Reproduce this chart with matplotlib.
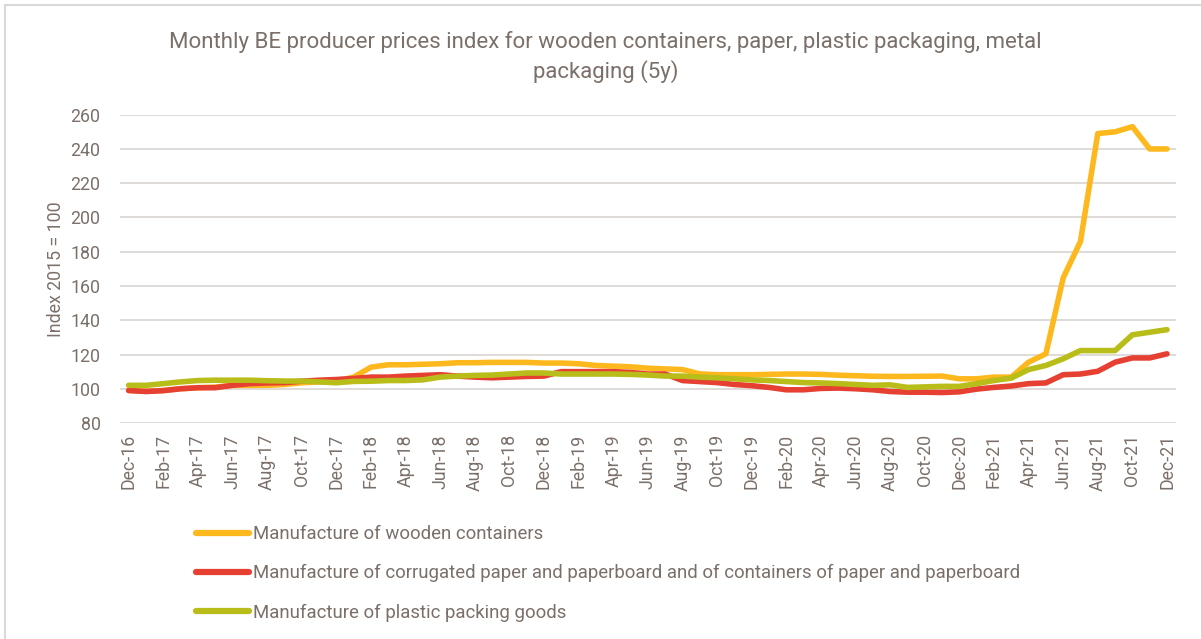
import numpy as np
import matplotlib.pyplot as plt
from matplotlib.lines import Line2D

plt.rcParams['font.family'] = ['Roboto', 'DejaVu Sans']

# monthly index values Dec-16 .. Dec-21 (2015 = 100)
months = ['Dec-16', 'Jan-17', 'Feb-17', 'Mar-17', 'Apr-17', 'May-17', 'Jun-17', 'Jul-17',
          'Aug-17', 'Sep-17', 'Oct-17', 'Nov-17', 'Dec-17', 'Jan-18', 'Feb-18', 'Mar-18',
          'Apr-18', 'May-18', 'Jun-18', 'Jul-18', 'Aug-18', 'Sep-18', 'Oct-18', 'Nov-18',
          'Dec-18', 'Jan-19', 'Feb-19', 'Mar-19', 'Apr-19', 'May-19', 'Jun-19', 'Jul-19',
          'Aug-19', 'Sep-19', 'Oct-19', 'Nov-19', 'Dec-19', 'Jan-20', 'Feb-20', 'Mar-20',
          'Apr-20', 'May-20', 'Jun-20', 'Jul-20', 'Aug-20', 'Sep-20', 'Oct-20', 'Nov-20',
          'Dec-20', 'Jan-21', 'Feb-21', 'Mar-21', 'Apr-21', 'May-21', 'Jun-21', 'Jul-21',
          'Aug-21', 'Sep-21', 'Oct-21', 'Nov-21', 'Dec-21']

wooden = [99, 98.5, 99, 100, 100.6, 101, 102, 102, 102, 102.5, 103.5, 104, 104.5, 106.8,
          112.6, 114, 114, 114.3, 114.6, 115.2, 115.2, 115.4, 115.4, 115.4, 115, 115, 114.6,
          113.6, 113.2, 112.8, 112, 111.6, 111.2, 108.7, 108.2, 108.2, 108.2, 108.4, 108.6,
          108.6, 108.4, 107.9, 107.6, 107.3, 107.2, 107.2, 107.3, 107.4, 105.8, 105.8, 106.8,
          106.8, 115.5, 120.4, 164.7, 186, 249, 250, 253, 240, 240]

paper = [99, 98.4, 98.9, 100, 100.6, 100.6, 102, 103, 103.4, 103.6, 104.4, 105, 105.4, 106,
         106.8, 106.8, 107.4, 107.8, 108.2, 107.4, 106.8, 106.4, 106.8, 107.2, 107.4, 110, 110,
         110, 110, 109.5, 108.6, 108.6, 104.8, 104.2, 103.6, 102.5, 101.8, 100.8, 99.4, 99.4,
         100.2, 100.4, 100, 99.4, 98.4, 98, 98, 97.8, 98.2, 99.8, 100.8, 101.6, 103, 103.4,
         108.2, 108.6, 110.2, 115.5, 118, 118, 120.4]

plastic = [102, 102, 103, 104, 104.8, 105, 105, 105, 104.7, 104.5, 104.5, 104, 103.5, 104.3,
           104.4, 104.8, 104.8, 105.2, 106.8, 107.4, 107.8, 108, 108.6, 109.2, 109.2, 108.6,
           108.6, 108.6, 108.6, 108.4, 108, 107.4, 107.4, 106.8, 106.4, 105.8, 105.2, 104.8,
           104.2, 103.6, 103.4, 103, 102.5, 102, 102.3, 100.8, 101.1, 101.4, 101.4, 103, 104.8,
           106.2, 111.2, 113.6, 117.5, 122.3, 122.3, 122.3, 131.5, 133, 134.5]

labels = ['Manufacture of wooden containers',
          'Manufacture of corrugated paper and paperboard and of containers of paper and paperboard',
          'Manufacture of plastic packing goods']
colors = ['#fdb81e', '#e64033', '#b8bd19']

txt = '#7b7069'
grid = '#dcd8d5'

fig = plt.figure(figsize=(12.01, 6.39), dpi=100)
ax = fig.add_axes([0.0999, 0.338, 0.879, 0.4825])

x = np.arange(len(months))
for series, lab, col in zip([wooden, paper, plastic], labels, colors):
    ax.plot(x, series, color=col, lw=4.0, label=lab, solid_capstyle='round',
            solid_joinstyle='round')

ax.set_xlim(-0.5, len(months) - 0.5)
ax.set_ylim(80, 260)
ax.set_yticks(range(80, 261, 20))
ax.set_xticks(x[::2])
ax.set_xticklabels(months[::2], rotation=90)
ax.tick_params(axis='both', length=0, colors=txt, labelsize=12.8)
ax.tick_params(axis='y', pad=14)
ax.tick_params(axis='x', pad=8)
ax.grid(axis='y', color=grid, lw=1.3)
ax.set_axisbelow(True)
for s in ax.spines.values():
    s.set_visible(False)

ax.set_ylabel('Index 2015 = 100', color=txt, fontsize=12.8, labelpad=4)

fig.text(0.504, 0.934, 'Monthly BE producer prices index for wooden containers, paper, plastic packaging, metal',
         ha='center', va='center', color=txt, fontsize=16)
fig.text(0.504, 0.888, 'packaging (5y)', ha='center', va='center', color=txt, fontsize=16)

leg = fig.legend(loc='upper left', bbox_to_anchor=(0.157, 0.19), frameon=False,
                 fontsize=13.4, handlelength=2.85, handletextpad=0.2, labelspacing=1.14,
                 borderaxespad=0)
for t in leg.get_texts():
    t.set_color(txt)
for h in leg.get_lines():
    h.set_linewidth(4.5)

# outer frame of the chart box
fig.add_artist(Line2D([0.0045, 0.0045], [0, 0.992], transform=fig.transFigure, color=grid, lw=1.5))
fig.add_artist(Line2D([0.0045, 1], [0.992, 0.992], transform=fig.transFigure, color=grid, lw=1.5))

fig.savefig('out.png', dpi=100)
